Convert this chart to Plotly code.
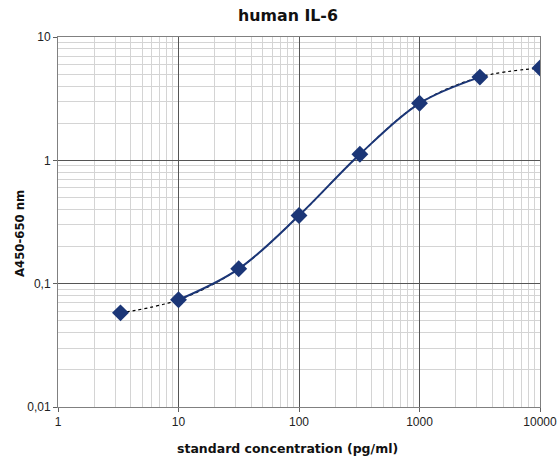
import plotly.graph_objects as go

conc = [3.3, 10, 31.6, 100, 320, 1000, 3170, 10000]
absorb = [0.058, 0.074, 0.132, 0.357, 1.12, 2.9, 4.73, 5.6]

x_ticks = [1, 10, 100, 1000, 10000]
x_tick_text = ["1", "10", "100", "1000", "10000"]
y_ticks = [0.01, 0.1, 1, 10]
y_tick_text = ["0,01", "0,1", "1", "10"]

navy = "#1b3677"


def minor_positions(decades):
    return [m * d for d in decades for m in range(2, 10)]


x_minor = minor_positions(x_ticks[:-1])
y_minor = minor_positions(y_ticks[:-1])

fig = go.Figure()
# dotted fit across the full range
fig.add_trace(go.Scatter(x=conc, y=absorb, mode="lines",
                         line=dict(color="black", width=1.2, dash="dot", shape="spline"),
                         showlegend=False, hoverinfo="skip"))
# solid curve over the inner standards
fig.add_trace(go.Scatter(x=conc[1:7], y=absorb[1:7], mode="lines",
                         line=dict(color=navy, width=2, shape="spline"),
                         showlegend=False))
fig.add_trace(go.Scatter(x=conc, y=absorb, mode="markers",
                         marker=dict(symbol="diamond", size=13, color=navy),
                         showlegend=False))

tick_font = "Liberation Sans, Arial"
title_font = "DejaVu Sans"

axis_common = dict(
    type="log",
    automargin=False,
    showline=True, linecolor="#808080", linewidth=1, mirror=True,
    ticks="outside", ticklen=4, tickcolor="#606060",
    showgrid=True, gridcolor="#555555", gridwidth=1,
    zeroline=False,
    tickfont=dict(family=tick_font, size=12, color="#222222"),
)

fig.update_layout(
    width=558, height=458,
    paper_bgcolor="white", plot_bgcolor="white",
    margin=dict(l=58, r=18, t=37, b=51),
    title=dict(text="<b>human IL-6</b>", x=288 / 558, xanchor="center", y=0.967, yanchor="middle",
               font=dict(family=title_font, size=15.8, color="#111111")),
    xaxis=dict(axis_common, range=[0, 4], tickvals=x_ticks, ticktext=x_tick_text,
               minor=dict(tickvals=x_minor, showgrid=True, gridcolor="#d4d4d4", gridwidth=1, ticks="")),
    yaxis=dict(axis_common, range=[-2, 1], tickvals=y_ticks, ticktext=y_tick_text,
               minor=dict(tickvals=y_minor, showgrid=True, gridcolor="#d4d4d4", gridwidth=1, ticks="")),
    annotations=[
        dict(text="<b>standard concentration (pg/ml)</b>", xref="paper", yref="paper",
             x=0.477, y=-0.113, xanchor="center", yanchor="middle", showarrow=False,
             font=dict(family=title_font, size=12.5, color="#111111")),
        dict(text="<b>A450-650 nm</b>", xref="paper", yref="paper", textangle=-90,
             x=-0.079, y=0.47, xanchor="center", yanchor="middle", showarrow=False,
             font=dict(family=title_font, size=11.7, color="#111111")),
    ],
)

fig.write_html("out.html",
               config={"displayModeBar": False},
               post_script="document.body.style.margin='0';document.body.style.overflow='hidden';")
